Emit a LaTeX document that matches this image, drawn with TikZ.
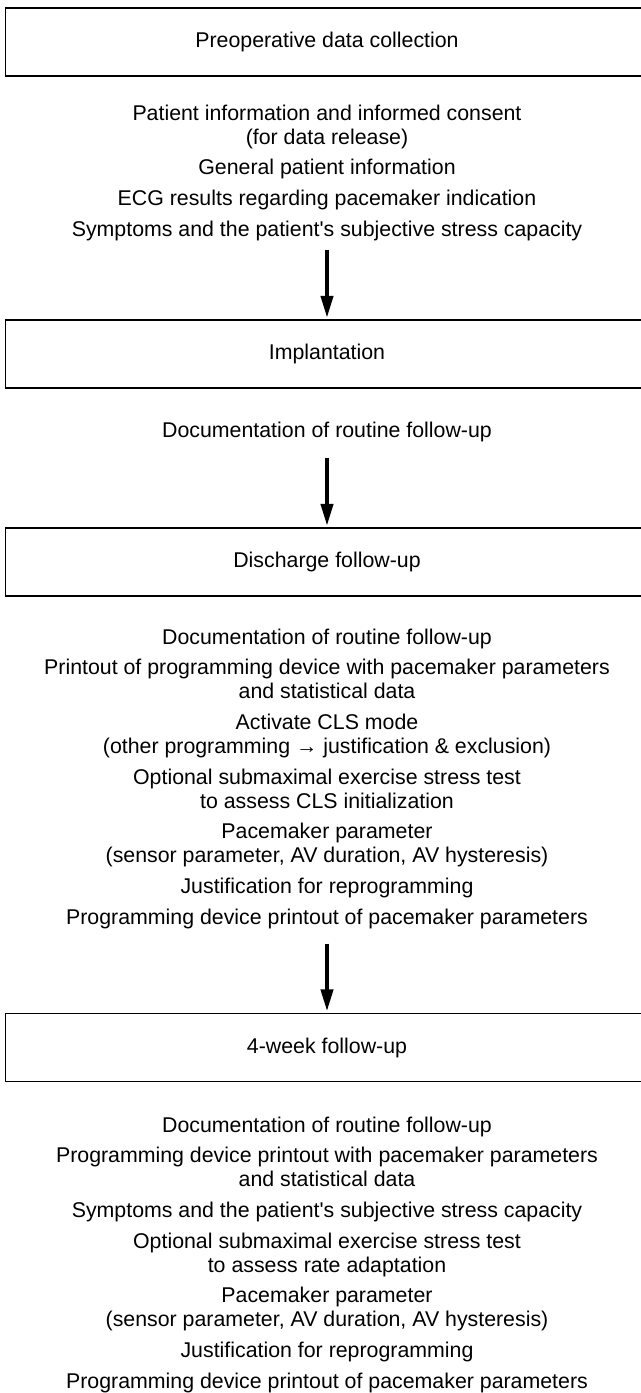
\documentclass[tikz,border=0pt]{standalone}
\usepackage{fontspec}
\setmainfont{Liberation Sans}
\usetikzlibrary{arrows.meta}

\begin{document}
\begin{tikzpicture}[x=0.75pt, y=-0.75pt,
  font=\fontsize{16}{18}\selectfont,
  stage/.style={draw, line width=1.2pt, minimum width=482pt, minimum height=51pt, inner sep=0pt},
  items/.style={align=center, inner sep=0pt, anchor=north},
  flow/.style={line width=3pt, -{Triangle[length=16.5pt, width=9pt]}, shorten >=1pt}]
\useasboundingbox (0,0) rectangle (640,1393);
\node[stage] (preop) at (327,42) {Preoperative data collection};
\node[items] (preopdata) at (327,104.5) {Patient information and informed consent\\(for data release)\\[5pt]
  General patient information\\[5pt]
  ECG results regarding pacemaker indication\\[5pt]
  Symptoms and the patient\textquotesingle s subjective stress capacity};
\node[stage] (implant) at (327,354) {Implantation};
\node[items] (implantdata) at (327,421.4) {Documentation of routine follow-up};
\node[stage] (discharge) at (327,562) {Discharge follow-up};
\node[items] (dischargedata) at (327,628.4) {Documentation of routine follow-up\\[5pt]
  Printout of programming device with pacemaker parameters\\and statistical data\\[5pt]
  Activate CLS mode\\(other programming → justification \& exclusion)\\[5pt]
  Optional submaximal exercise stress test\\to assess CLS initialization\\[5pt]
  Pacemaker parameter\\(sensor parameter, AV duration, AV hysteresis)\\[5pt]
  Justification for reprogramming\\[5pt]
  Programming device printout of pacemaker parameters};
\node[stage] (week4) at (327,1047.5) {4-week follow-up};
\node[items] (week4data) at (327,1116.4) {Documentation of routine follow-up\\[5pt]
  Programming device printout with pacemaker parameters\\and statistical data\\[5pt]
  Symptoms and the patient\textquotesingle s subjective stress capacity\\[5pt]
  Optional submaximal exercise stress test\\to assess rate adaptation\\[5pt]
  Pacemaker parameter\\(sensor parameter, AV duration, AV hysteresis)\\[5pt]
  Justification for reprogramming\\[5pt]
  Programming device printout of pacemaker parameters};
\draw[flow, shorten <=6.75pt] (preopdata) -- (implant);
\draw[flow, shorten <=12.4pt] (implantdata) -- (discharge);
\draw[flow, shorten <=11.1pt] (dischargedata) -- (week4);
\end{tikzpicture}
\end{document}
